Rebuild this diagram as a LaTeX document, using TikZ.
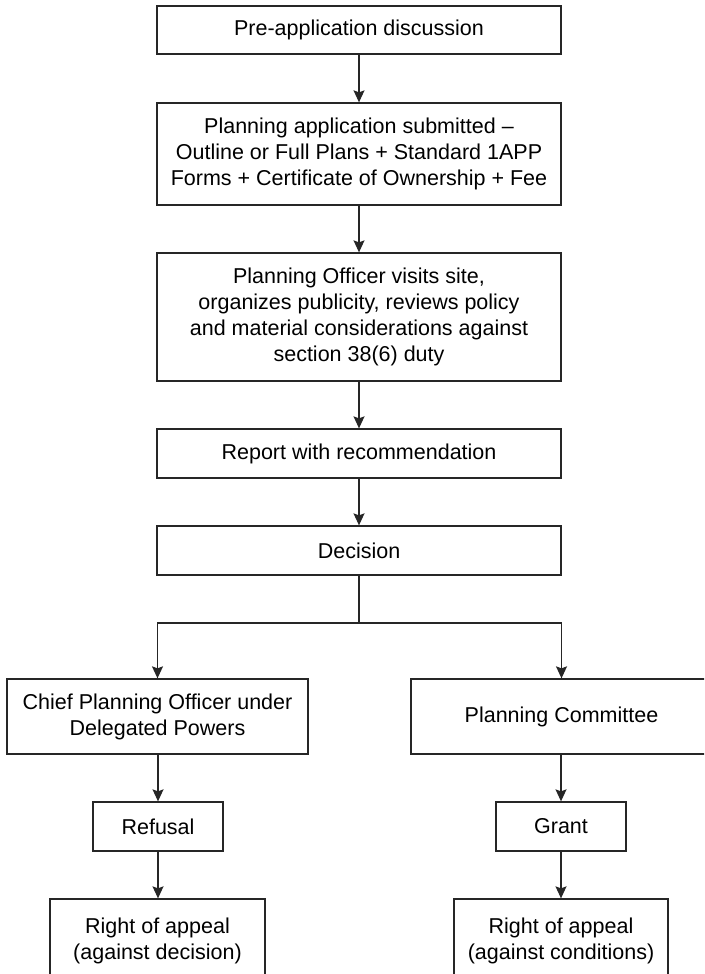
\documentclass[tikz,border=0pt]{standalone}
\usepackage{fontspec}
\setmainfont{Liberation Sans}
\usetikzlibrary{arrows.meta}
\begin{document}
\begin{tikzpicture}[x=1pt,y=-1pt,
  box/.style={draw=black!85, line width=1.3pt, fill=white, inner sep=0pt,
    align=center, font=\fontsize{21.5}{26}\selectfont},
  link/.style={draw=black!85, line width=1.3pt},
  arr/.style={link, -{Stealth[length=12pt,width=11pt,inset=2pt]}}]
  \useasboundingbox (0,0) rectangle (704,974);
  \clip (0,0) rectangle (704,974);

  % main sequence
  \node[box, minimum width=404pt, minimum height=48pt] (pre) at (359,30)
    {Pre-application discussion};
  \node[box, minimum width=404pt, minimum height=102pt] (sub) at (359,154)
    {Planning application submitted --\\
     Outline or Full Plans + Standard 1APP\\
     Forms + Certificate of Ownership + Fee};
  \node[box, minimum width=404pt, minimum height=128pt] (visit) at (359,317)
    {Planning Officer visits site,\\
     organizes publicity, reviews policy\\
     and material considerations against\\
     section 38(6) duty};
  \node[box, minimum width=404pt, minimum height=49pt] (report) at (359,453.5)
    {Report with recommendation};
  \node[box, minimum width=404pt, minimum height=49pt] (dec) at (359,550.5)
    {Decision};

  % two routes
  \node[box, minimum width=301pt, minimum height=75pt] (cpo) at (157.5,716.5)
    {Chief Planning Officer under\\ Delegated Powers};
  \node[box, minimum width=301pt, minimum height=75pt] (comm) at (561.5,716.5)
    {Planning Committee};
  \node[box, minimum width=130pt, minimum height=49pt] (ref) at (158,826.5)
    {Refusal};
  \node[box, minimum width=130pt, minimum height=49pt] (grant) at (561,826.5)
    {Grant};
  \node[box, minimum width=215pt, minimum height=84pt] (appd) at (157.5,941)
    {Right of appeal\\ (against decision)};
  \node[box, minimum width=214pt, minimum height=84pt] (appc) at (561,941)
    {Right of appeal\\ (against conditions)};

  % connectors
  \draw[arr] (pre) -- (sub);
  \draw[arr] (sub) -- (visit);
  \draw[arr] (visit) -- (report);
  \draw[arr] (report) -- (dec);
  \coordinate (split) at (359,623);
  \draw[link] (dec) -- (split);
  \draw[arr] (split) -| (cpo);
  \draw[arr] (split) -| (comm);
  \draw[arr] (cpo.south -| ref) -- (ref);
  \draw[arr] (comm.south -| grant) -- (grant);
  \draw[arr] (ref) -- (appd.north -| ref);
  \draw[arr] (grant) -- (appc);
\end{tikzpicture}
\end{document}
